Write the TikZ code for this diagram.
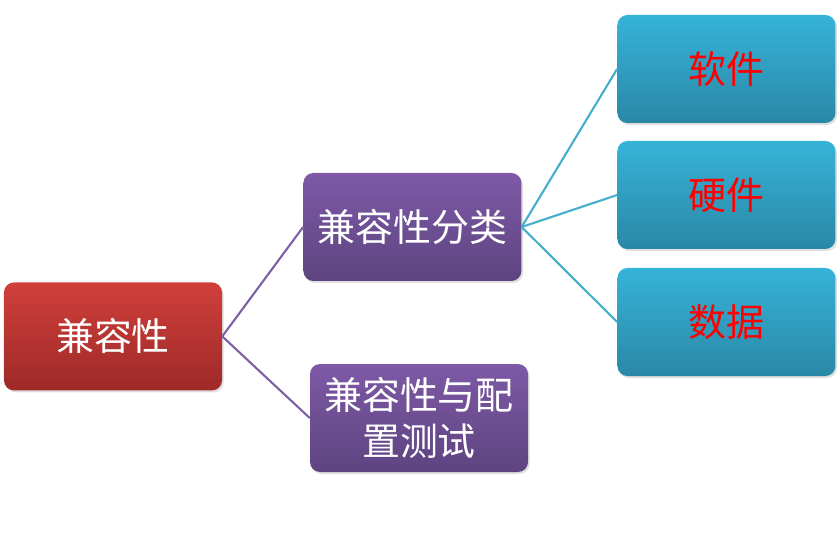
\documentclass[tikz,border=0pt]{standalone}
\usepackage{fontspec}
\setmainfont{Noto Sans CJK SC}
\usetikzlibrary{shadows}

\definecolor{redTop}{HTML}{D03F3B}
\definecolor{redBot}{HTML}{9E2A28}
\definecolor{purTop}{HTML}{7E59A6}
\definecolor{purBot}{HTML}{5D4480}
\definecolor{cyaTop}{HTML}{36B3D8}
\definecolor{cyaBot}{HTML}{2A88A6}
\definecolor{purLine}{HTML}{7D60A3}
\definecolor{cyaLine}{HTML}{45AFC9}

\begin{document}
\begin{tikzpicture}[
    box/.style={rounded corners=0.25cm, minimum width=5.45cm, minimum height=2.7cm,
        inner sep=0pt, align=center,
        font=\fontsize{27}{33}\selectfont,
        drop shadow={shadow xshift=0.04cm, shadow yshift=-0.05cm, opacity=0.25}},
    rootbox/.style={box, top color=redTop, bottom color=redBot, text=white},
    midbox/.style={box, top color=purTop, bottom color=purBot, text=white},
    leafbox/.style={box, top color=cyaTop, bottom color=cyaBot, text=red},
    purlink/.style={purLine, line width=1.5pt},
    cyalink/.style={cyaLine, line width=1.5pt},
]
\useasboundingbox (0,0) rectangle (21,13.7);

% root
\node[rootbox] (root) at (2.825, 5.29) {兼容性};

% second level
\node[midbox] (kind) at (10.31, 8.025) {兼容性分类};
\node[midbox] (test) at (10.475, 3.25) {兼容性与配\\置测试};

% leaves
\node[leafbox] (soft) at (18.16, 11.975) {软件};
\node[leafbox] (hard) at (18.16, 8.825) {硬件};
\node[leafbox] (data) at (18.16, 5.65) {数据};

% links
\draw[purlink] (root.east) -- (kind.west);
\draw[purlink] (root.east) -- (test.west);
\foreach \n in {soft, hard, data} {
    \draw[cyalink] (kind.east) -- (\n.west);
}

\end{tikzpicture}
\end{document}
